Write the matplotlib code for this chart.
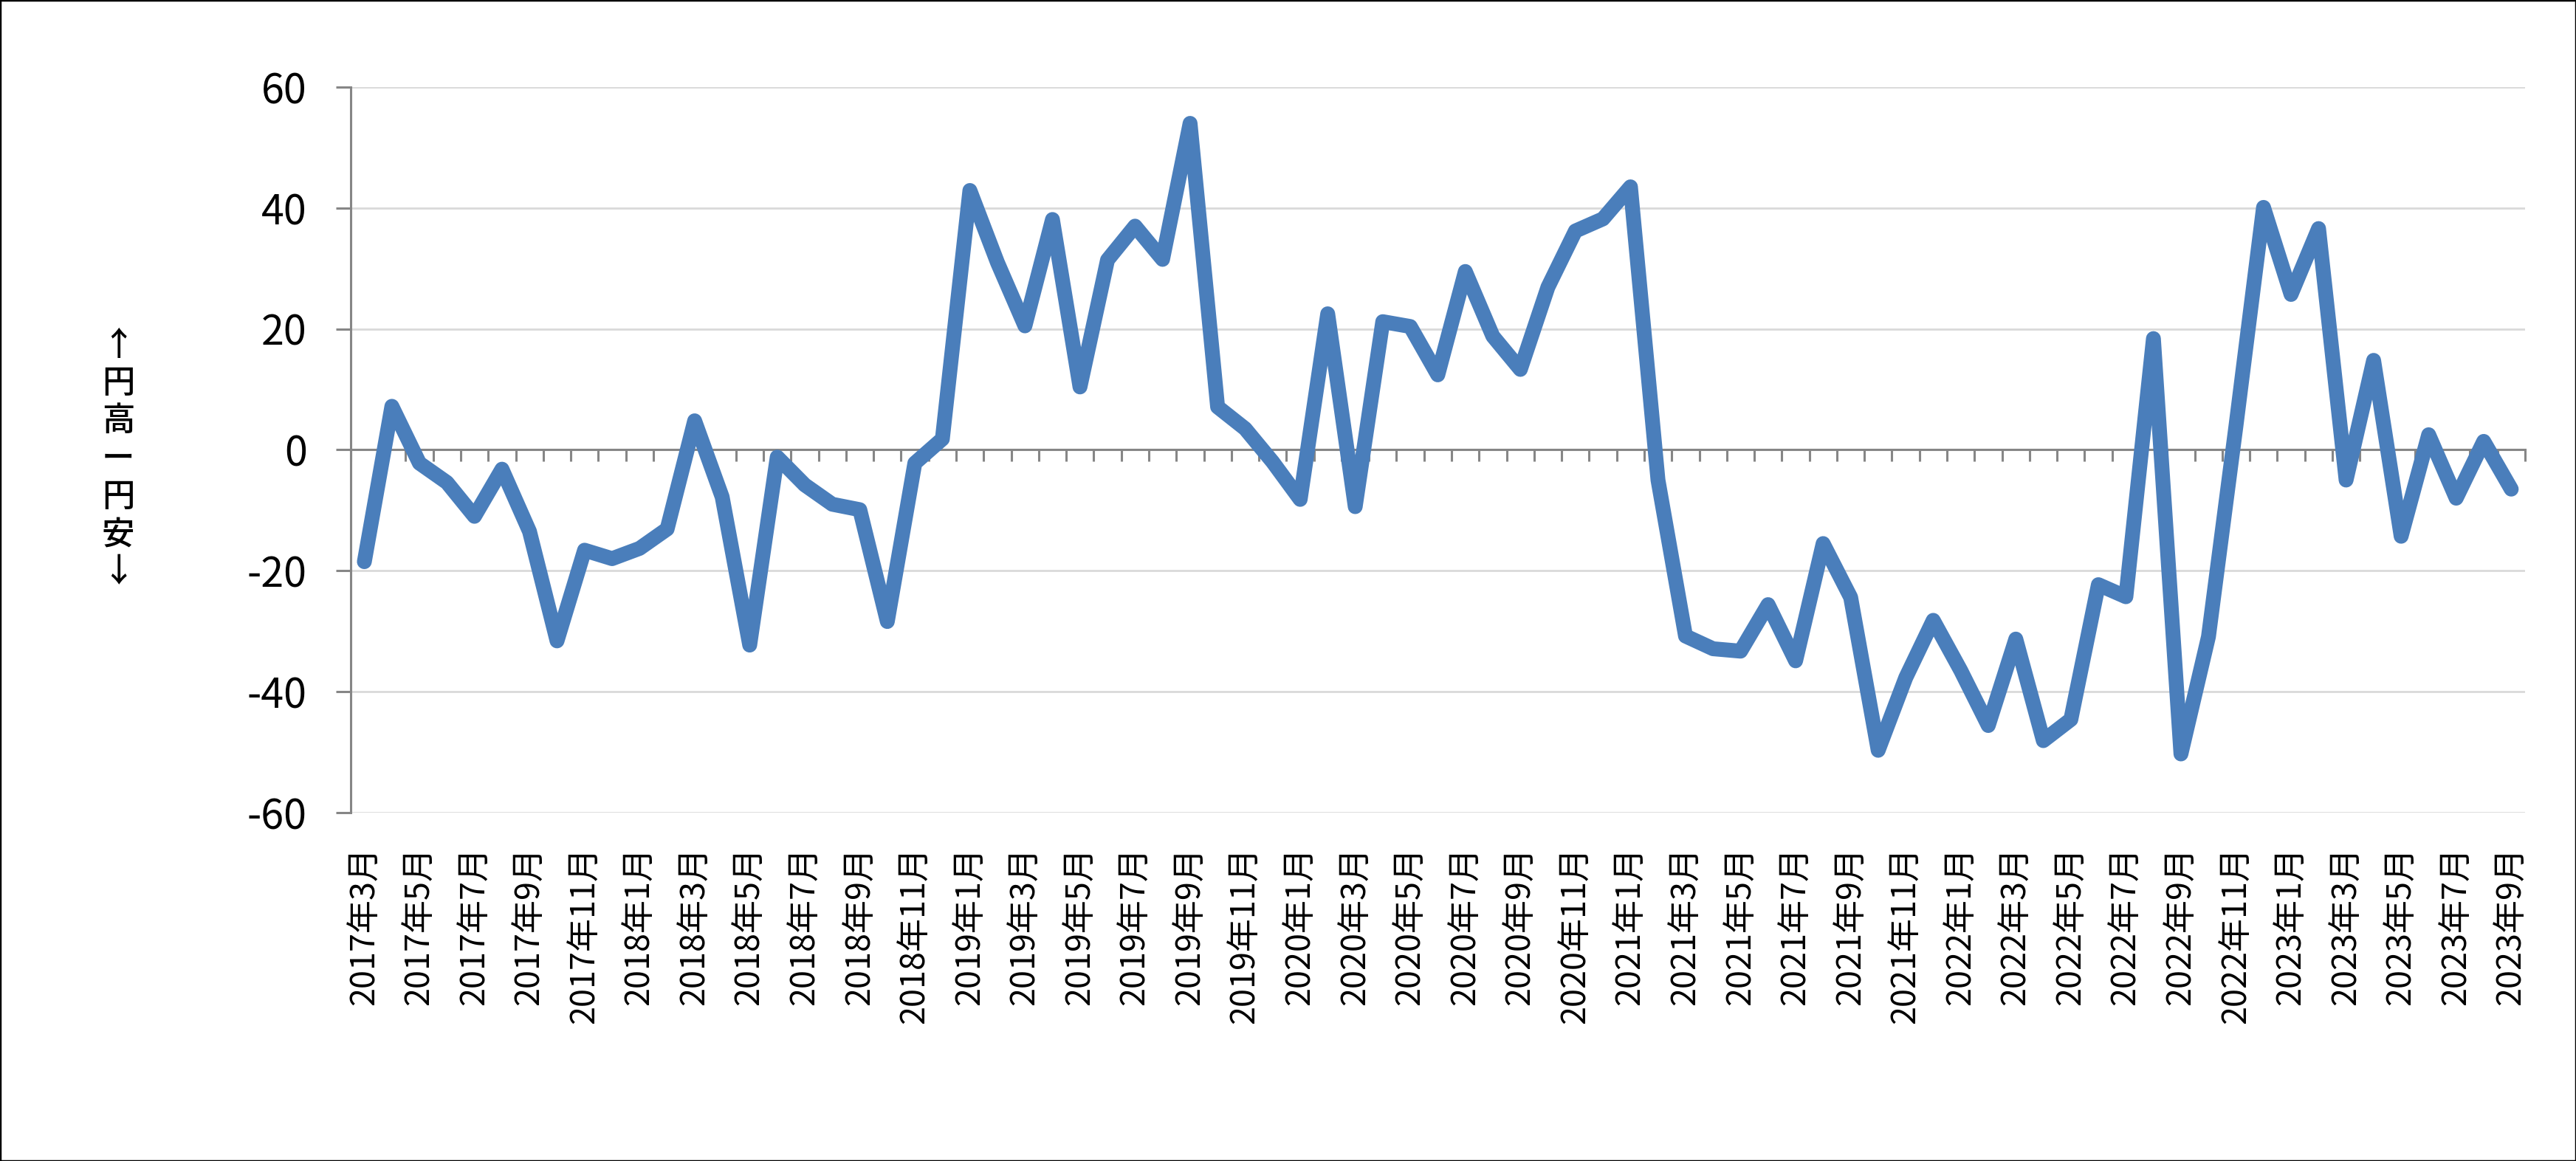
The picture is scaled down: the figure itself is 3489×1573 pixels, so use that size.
import numpy as np
import matplotlib
matplotlib.use("Agg")
import matplotlib.pyplot as plt
from matplotlib.patches import Rectangle

plt.rcParams['font.family'] = ['Noto Sans CJK JP', 'DejaVu Sans']

# 2017年3月 .. 2023年9月, monthly
values = [
    -18.5, 7.2, -2.2, -5.4, -11.0, -3.2, -13.5, -31.6, -16.6, -18.0,            # 2017
    -16.3, -13.1, 4.8, -7.8, -32.3, -1.2, -5.8, -9.0, -9.9, -28.4, -2.2, 1.8,    # 2018
    42.9, 31.0, 20.5, 38.1, 10.4, 31.4, 37.0, 31.5, 54.0, 7.1, 3.5, -2.0,       # 2019
    -8.2, 22.5, -9.4, 21.2, 20.4, 12.4, 29.5, 18.8, 13.3, 26.9, 36.2, 38.2,     # 2020
    43.5, -5.0, -30.8, -32.9, -33.3, -25.6, -34.9, -15.5, -24.4, -49.7, -37.7, -28.2,  # 2021
    -36.5, -45.6, -31.3, -48.1, -44.6, -22.3, -24.3, 18.4, -50.3, -30.9, 4.0, 40.1,    # 2022
    25.7, 36.6, -5.0, 14.8, -14.3, 2.5, -8.0, 1.4, -6.5,                         # 2023
]

tick_labels = [
    '2017年3月', '2017年5月', '2017年7月', '2017年9月', '2017年11月',
    '2018年1月', '2018年3月', '2018年5月', '2018年7月', '2018年9月', '2018年11月',
    '2019年1月', '2019年3月', '2019年5月', '2019年7月', '2019年9月', '2019年11月',
    '2020年1月', '2020年3月', '2020年5月', '2020年7月', '2020年9月', '2020年11月',
    '2021年1月', '2021年3月', '2021年5月', '2021年7月', '2021年9月', '2021年11月',
    '2022年1月', '2022年3月', '2022年5月', '2022年7月', '2022年9月', '2022年11月',
    '2023年1月', '2023年3月', '2023年5月', '2023年7月', '2023年9月',
]

y_ticks = [-60, -40, -20, 0, 20, 40, 60]

axis_gray = '#868686'
grid_gray = '#D9D9D9'
blue = '#4A7EBB'

n = len(values)
x = np.arange(n)

fig = plt.figure(figsize=(34.89, 15.73), dpi=100)
ax = fig.add_axes([0.1361, 0.3001, 0.8441, 0.6249])

ax.plot(x, values, color=blue, lw=14.5, solid_joinstyle='round',
        solid_capstyle='round', zorder=3)

ax.set_xlim(-0.5, n - 0.5)
ax.set_ylim(-60, 60)
ax.set_axisbelow(True)

# y axis
ax.set_yticks(y_ticks)
ax.set_yticklabels([str(v) for v in y_ticks])
ax.yaxis.grid(True, color=grid_gray, lw=2)
ax.tick_params(axis='y', direction='out', length=14.4, width=2.2,
               color=axis_gray, pad=28, labelsize=40)
ax.spines['left'].set_color(axis_gray)
ax.spines['left'].set_linewidth(2.2)
ax.spines['top'].set_visible(False)
ax.spines['right'].set_visible(False)

# zero line with month ticks
ax.spines['bottom'].set_position(('data', 0))
ax.spines['bottom'].set_color(axis_gray)
ax.spines['bottom'].set_linewidth(2.2)
ax.set_xticks(np.arange(-0.5, n, 1))
ax.tick_params(axis='x', direction='out', length=11.5, width=2.2,
               color=axis_gray, labelbottom=False)

# category labels below the plot area
sec = ax.secondary_xaxis('bottom')
sec.set_xticks(x[::2])
sec.set_xticklabels(tick_labels, rotation=90)
sec.tick_params(length=0, pad=33, labelsize=32.4)
sec.spines['bottom'].set_visible(False)

fig.text(160 / 3489, 1 - 622 / 1573, '↑\n円\n高\nー\n円\n安\n↓',
         ha='center', va='center', fontsize=32, fontweight='medium',
         linespacing=1.18)

fig.patches.append(Rectangle((0, 0), 1, 1, transform=fig.transFigure,
                             fill=False, edgecolor='black', lw=2.5))

fig.savefig('out.png', dpi=100)
